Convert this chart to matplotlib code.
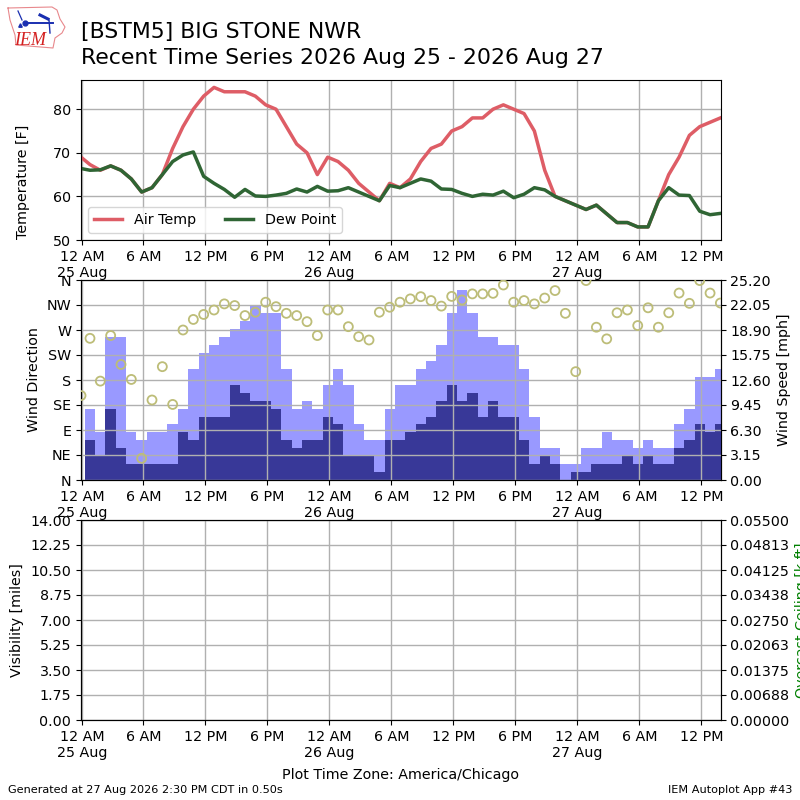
import numpy as np
import matplotlib
matplotlib.use('Agg')
import matplotlib.pyplot as plt

plt.rcParams['font.size'] = 10.3

RED = '#DE5D66'
DGREEN = '#2F6534'
LIGHT = '#9999FF'
DARK = '#383898'
KHAKI = '#BDBD78'
BLUE = '#1A2FB0'

# hourly obs, first one sits right on the axis edge
hours = [-0.03] + [i - 0.16 for i in range(1, 63)]

air_temp = [69, 67.3, 66, 67, 66, 64, 61, 62, 65, 71, 76, 80, 83, 85, 84, 84,
            84, 83, 81, 80, 76, 72, 70, 65, 69, 68, 66, 63, 61, 59, 63, 62,
            64, 68, 71, 72, 75, 76, 78, 78, 80, 81, 80, 79, 75, 66, 60, 59,
            58, 57, 58, 56, 54, 54, 53, 53, 59, 65, 69, 74, 76, 77, 78]
dew_point = [66.4, 66, 66.1, 67, 66, 64, 61, 62, 65, 68, 69.5, 70.2, 64.6, 63,
             61.6, 59.8, 61.6, 60.1, 60, 60.3, 60.7, 61.7, 61, 62.3, 61.2,
             61.3, 62, 61, 60, 59, 62.5, 62, 63, 64, 63.5, 61.7, 61.6, 60.7,
             60, 60.5, 60.3, 61.2, 59.7, 60.5, 62, 61.5, 60, 59, 58, 57, 58,
             56, 54, 54, 53, 53, 59, 62, 60.3, 60.2, 56.6, 55.8, 56.1]
wind_dir = [152, 255, 178, 260, 208, 181, 39, 144, 204, 136, 270, 289, 298,
            306, 317, 314, 296, 302, 320, 312, 300, 296, 285, 260, 306, 306,
            276, 258, 252, 302, 311, 320, 326, 330, 323, 313, 330.5, 324, 335,
            335, 336, 351, 320, 323, 317, 327.5, 341, 300, 195, 359, 275, 254,
            301, 306, 278, 310, 275, 301, 336.5, 318, 359, 336.5, 318.5]
wind_gust = [0, 9, 6, 18, 18, 6, 5, 6, 6, 7, 9, 14, 16, 17, 18, 19, 20, 22, 21,
             21, 14, 9, 10, 9, 12, 14, 12, 7, 5, 5, 9, 12, 12, 14, 15, 17, 21,
             24, 21, 18, 18, 17, 17, 14, 8, 4, 4, 2, 2, 4, 4, 6, 5, 5, 4, 5, 4,
             4, 7, 9, 13, 13, 14]
wind_speed = [0, 5, 3, 9, 4, 2, 2, 2, 2, 2, 6, 5, 8, 8, 8, 12, 11, 10, 10, 9,
              5, 4, 5, 5, 8, 7, 3, 3, 3, 1, 5, 5, 6, 7, 8, 10, 12, 10, 11, 8,
              10, 8, 8, 5, 2, 3, 2, 0, 1, 1, 2, 2, 2, 3, 2, 3, 2, 2, 4, 5, 7,
              6, 7]

time_ticks = [0.1, 6, 12, 18, 24, 30, 36, 42, 48, 54, 60]
time_labels = ['12 AM\n25 Aug', '6 AM', '12 PM', '6 PM', '12 AM\n26 Aug',
               '6 AM', '12 PM', '6 PM', '12 AM\n27 Aug', '6 AM', '12 PM']
temp_ticks = [50, 60, 70, 80]
dir_ticks = [0, 45, 90, 135, 180, 225, 270, 315, 360]
dir_labels = ['N', 'NE', 'E', 'SE', 'S', 'SW', 'W', 'NW', 'N']
speed_labels = ['0.00', '3.15', '6.30', '9.45', '12.60', '15.75', '18.90',
                '22.05', '25.20']
speed_ticks = [0, 3.15, 6.3, 9.45, 12.6, 15.75, 18.9, 22.05, 25.2]
vis_ticks = [0, 1.75, 3.5, 5.25, 7, 8.75, 10.5, 12.25, 14]
ceil_ticks = [0, 0.006875, 0.01375, 0.020625, 0.0275, 0.034375, 0.04125,
              0.048125, 0.055]
ceil_labels = ['0.00000', '0.00688', '0.01375', '0.02063', '0.02750',
               '0.03438', '0.04125', '0.04813', '0.05500']

# logo pieces, in pixels of the logo box
iowa_x = [8, 52, 57, 60, 65, 62, 55, 53, 16, 15, 10, 8]
iowa_y = [8, 7, 10, 19, 27, 33, 38, 48, 45, 35, 20, 8]


def axes_at(fig, left, top, right, bottom):
    return fig.add_axes([left / 800, 1 - bottom / 800,
                         (right - left) / 800, (bottom - top) / 800])


def set_time_axis(ax):
    ax.set_xlim(-0.03, 61.85)
    ax.set_xticks(time_ticks)
    ax.set_xticklabels(time_labels)
    ax.grid(True, color='#b0b0b0', lw=1.0)


fig = plt.figure(figsize=(8, 8), dpi=100)

# temperature
ax1 = axes_at(fig, 81, 80, 720.5, 240)
ax1.plot(hours, air_temp, color=RED, lw=2.5, label='Air Temp')
ax1.plot(hours, dew_point, color=DGREEN, lw=2.5, label='Dew Point')
ax1.set_ylim(50, 86.7)
ax1.set_yticks(temp_ticks)
ax1.set_ylabel('Temperature [F]')
ax1.yaxis.set_label_coords(-0.079, 0.3625)
set_time_axis(ax1)
ax1.legend(loc='lower left', ncol=2)

# wind
ax2 = axes_at(fig, 81, 280, 720.5, 480)
ax2b = ax2.twinx()
ax2b.bar(hours, wind_gust, width=1.0, color=LIGHT, zorder=2)
ax2b.bar(hours, wind_speed, width=1.0, color=DARK, zorder=3)
ax2b.set_ylim(0, 25.2)
ax2b.set_yticks(speed_ticks)
ax2b.set_yticklabels(speed_labels)
ax2b.set_ylabel('Wind Speed [mph]')
ax2.set_zorder(ax2b.get_zorder() + 1)
ax2.patch.set_visible(False)
ax2.scatter(hours, wind_dir, s=42, facecolors='none', edgecolors=KHAKI,
            linewidths=1.3, zorder=5)
ax2.set_ylim(0, 360)
ax2.set_yticks(dir_ticks)
ax2.set_yticklabels(dir_labels)
ax2.set_ylabel('Wind Direction')
ax2.yaxis.set_label_coords(-0.063, 0.5)
set_time_axis(ax2)

# visibility and ceiling, nothing reported
ax3 = axes_at(fig, 81, 520, 720.5, 720)
ax3b = ax3.twinx()
ax3.set_ylim(0, 14)
ax3.set_yticks(vis_ticks)
ax3.set_yticklabels(['%.2f' % v for v in vis_ticks])
ax3.set_ylabel('Visibility [miles]')
ax3.yaxis.set_label_coords(-0.089, 0.5)
ax3b.set_ylim(0, 0.055)
ax3b.set_yticks(ceil_ticks)
ax3b.set_yticklabels(ceil_labels)
ax3b.set_ylabel('Overcast Ceiling [k ft]', color='g')
set_time_axis(ax3)
ax3.set_xlabel('Plot Time Zone: America/Chicago', labelpad=6)

# header and footer
fig.text(81 / 800, 1 - 37.7 / 800, '[BSTM5] BIG STONE NWR', fontsize=15.8,
         ha='left', va='baseline')
fig.text(81 / 800, 1 - 64.3 / 800, 'Recent Time Series 2026 Aug 25 - 2026 Aug 27',
         fontsize=15.8, ha='left', va='baseline')
fig.text(8 / 800, 1 - 793 / 800, 'Generated at 27 Aug 2026 2:30 PM CDT in 0.50s',
         fontsize=8.15, ha='left', va='baseline')
fig.text(792 / 800, 1 - 793 / 800, 'IEM Autoplot App #43',
         fontsize=8.15, ha='right', va='baseline')

# logo
logo = fig.add_axes([0, 1 - 60 / 800, 80 / 800, 60 / 800])
logo.set_xlim(0, 80)
logo.set_ylim(60, 0)
logo.axis('off')
logo.plot(iowa_x, iowa_y, color='#E8888C', lw=0.8)
logo.plot([25, 53], [23, 23], color=BLUE, lw=1.4)
logo.plot([18, 22], [11, 20], color=BLUE, lw=0.9)
logo.plot([40, 48], [15, 19], color=BLUE, lw=2.2)
logo.plot([25], [23], 'o', color=BLUE, ms=3.5)
logo.plot([20], [25], '^', color=BLUE, ms=2.5)
logo.plot([49, 50], [20, 33], color=BLUE, lw=1)
logo.text(30, 45, 'IEM', color='#D42020', family='Liberation Serif', style='italic',
          fontsize=13, ha='center', va='baseline')

fig.savefig('out.png', dpi=100)
